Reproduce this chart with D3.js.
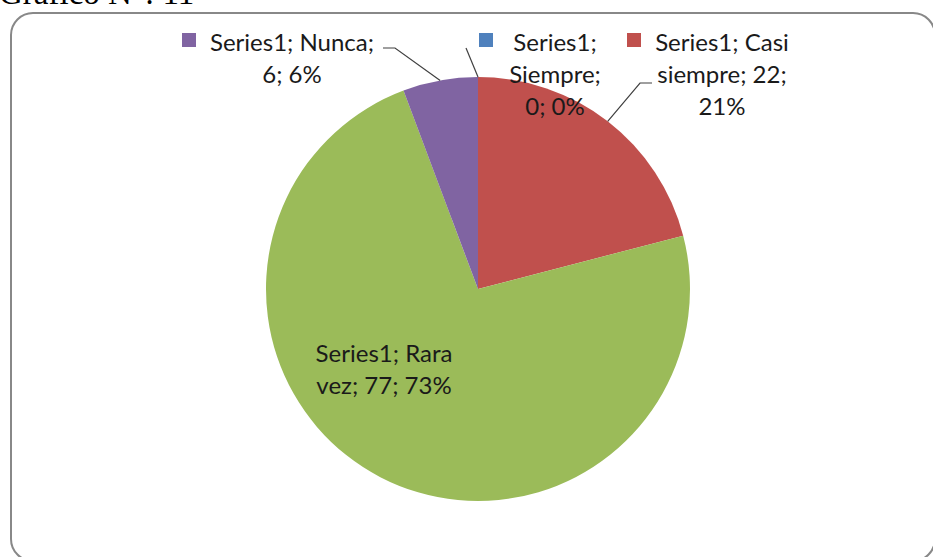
<!DOCTYPE html>
<html>
<head>
<meta charset="utf-8">
<script src="https://cdn.jsdelivr.net/npm/d3@7"></script>
<style>
  html, body { margin: 0; padding: 0; background: #fff; overflow: hidden; }
  svg { display: block; }
</style>
</head>
<body>
<svg id="chart" width="933" height="557"></svg>
<script>
"use strict";

// values (Series1)
var categories = ["Siempre", "Casi siempre", "Rara vez", "Nunca"];
var values = [0, 22, 77, 6];
var percents = ["0%", "21%", "73%", "6%"];
var colors = ["#4F81BD", "#C0504D", "#9BBB59", "#8064A2"];

// label text, broken the way Excel wrapped it
var labelLines = [
    ["Series1;", "Siempre;", "0; 0%"],
    ["Series1; Casi", "siempre; 22;", "21%"],
    ["Series1; Rara", "vez; 77; 73%"],
    ["Series1; Nunca;", "6; 6%"]
];

var svg = d3.select("#chart");

var centre = { x: 478, y: 289 };
var radius = 212;
var font = "Lato, 'Open Sans', sans-serif";
var fontSize = 24;
var lineH = 32;

// title, mostly cut off at the top of the picture (as in the source)
svg.append("text")
    .attr("x", -1)
    .attr("y", 4)
    .attr("font-family", "'Liberation Serif', 'Times New Roman', serif")
    .attr("font-size", "33px")
    .attr("fill", "#000")
    .text("Gráfico N°: 11");

// chart area frame
svg.append("rect")
    .attr("x", 11).attr("y", 13)
    .attr("width", 924).attr("height", 548)
    .attr("rx", 22).attr("ry", 22)
    .attr("fill", "#fff")
    .attr("stroke", "#888")
    .attr("stroke-width", 2);


var pie = d3.pie().sort(null).value(function(d) { return d; });
var arcs = pie(values);
var arc = d3.arc().innerRadius(0).outerRadius(radius);

var pieGroup = svg.append("g")
    .attr("transform", "translate(" + centre.x + "," + centre.y + ")");

pieGroup.selectAll("path")
    .data(arcs)
    .enter()
    .append("path")
      .attr("d", arc)
      .attr("fill", function(d, i) { return colors[i]; })
      .attr("stroke", function(d) { return d.value === 0 ? "#c9d6e8" : "none"; })
      .attr("stroke-width", 1);


// label placement: centre x of the text block, first baseline, legend key x (or null)
var labelPos = [
    { cx: 555, y: 51, keyX: 479 },
    { cx: 722, y: 51, keyX: 627 },
    { cx: 384, y: 362, keyX: null },
    { cx: 292, y: 51, keyX: 182 }
];

// leader lines: knee next to the label, then to the slice midpoint on the rim
var leaderKnees = [
    [[466, 48]],
    [[652, 83], [640, 83]],
    null,
    [[383, 48], [395, 48]]
];

function rimPoint(d) {
    var a = (d.startAngle + d.endAngle) / 2;
    return [centre.x + radius * Math.sin(a), centre.y - radius * Math.cos(a)];
}

var labelGroup = svg.append("g");

arcs.forEach(function(d, i) {
    var pos = labelPos[i];

    if (leaderKnees[i]) {
        var pts = leaderKnees[i].concat([rimPoint(d)]);
        labelGroup.append("path")
            .attr("d", d3.line()(pts))
            .attr("fill", "none")
            .attr("stroke", "#404040")
            .attr("stroke-width", 1.2);
    }

    if (pos.keyX !== null) {
        labelGroup.append("rect")
            .attr("x", pos.keyX).attr("y", 33)
            .attr("width", 14).attr("height", 14)
            .attr("fill", colors[i]);
    }

    var t = labelGroup.append("text")
        .attr("font-family", font)
        .attr("font-size", fontSize + "px")
        .attr("fill", "#1a1a1a")
        .attr("text-anchor", "middle");

    labelLines[i].forEach(function(line, k) {
        t.append("tspan")
            .attr("x", pos.cx)
            .attr("y", pos.y + k * lineH)
            .text(line);
    });
});

</script>
</body>
</html>
